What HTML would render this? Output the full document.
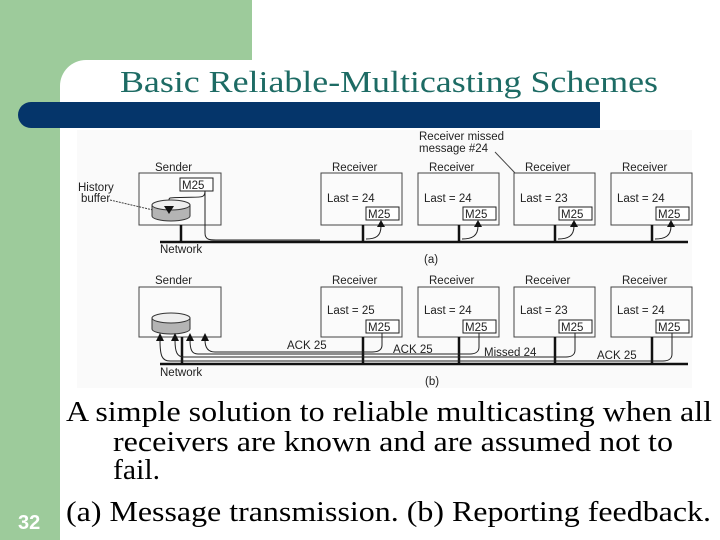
<!DOCTYPE html>
<html><head><meta charset="utf-8"><style>
html,body{margin:0;padding:0;width:720px;height:540px;overflow:hidden;background:#fff}
svg{display:block}
.d{font-family:"Liberation Sans",sans-serif;font-size:11.5px;fill:#222}
.s{font-family:"Liberation Serif",serif;fill:#000;font-size:28px}
</style></head><body>
<svg width="720" height="540" viewBox="0 0 720 540" xmlns="http://www.w3.org/2000/svg">
<rect x="0" y="0" width="720" height="540" fill="#fff"/>
<rect x="0" y="0" width="60" height="540" fill="#9dcb9b"/>
<rect x="0" y="0" width="252" height="60" fill="#9dcb9b"/>
<path d="M60 60 H86 A26 26 0 0 0 60 86 Z" fill="#9dcb9b"/>
<rect x="18" y="102" width="582" height="26" rx="13" fill="#05356a"/>
<rect x="300" y="102" width="300" height="26" fill="#05356a"/>
<text x="120" y="92" textLength="538" lengthAdjust="spacingAndGlyphs" font-family="Liberation Serif,serif" font-size="31" fill="#1d6b64">Basic Reliable-Multicasting Schemes</text>
<rect x="77" y="130" width="615" height="258" fill="#fafafa"/>
<g stroke="#444" fill="none" stroke-width="1">
<rect x="139" y="173" width="82" height="52" fill="#fbfbfb"/>
<rect x="180" y="178" width="33" height="13" fill="#fff" stroke="#222"/>
<line x1="110" y1="200" x2="153" y2="210" stroke-dasharray="2,1"/>
<path d="M205 191 C205 200 200 196 170 198 C168 199 169 203 169 206" stroke="#222"/>
<path d="M205 191 V233 C205 240 210 240 216 240 H320" stroke="#222"/>
<rect x="321" y="173" width="81" height="52" fill="#fbfbfb"/>
<rect x="418" y="173" width="81" height="52" fill="#fbfbfb"/>
<rect x="514" y="173" width="81" height="52" fill="#fbfbfb"/>
<rect x="611" y="173" width="81" height="52" fill="#fbfbfb"/>
<line x1="495" y1="152" x2="515" y2="173"/>
<rect x="139" y="287" width="82" height="50" fill="#fbfbfb"/>
<rect x="321" y="287" width="81" height="50" fill="#fbfbfb"/>
<rect x="418" y="287" width="81" height="50" fill="#fbfbfb"/>
<rect x="514" y="287" width="81" height="50" fill="#fbfbfb"/>
<rect x="611" y="287" width="81" height="50" fill="#fbfbfb"/>
</g>
<g stroke="#333" stroke-width="1">
<path d="M152 205 V216 A19 5 0 0 0 190 216 V205 Z" fill="#b4b4b4"/>
<ellipse cx="171" cy="205" rx="19" ry="5" fill="#eee"/>
<path d="M152 318 V329 A19 5 0 0 0 190 329 V318 Z" fill="#b4b4b4"/>
<ellipse cx="171" cy="318" rx="19" ry="5" fill="#eee"/>
</g>
<polygon points="164,206 174,206 169,214" fill="#111"/>
<g stroke="#111" stroke-width="2.5">
<line x1="160" y1="242" x2="688" y2="242"/>
<line x1="181" y1="225" x2="181" y2="242"/>
<line x1="363" y1="225" x2="363" y2="242"/>
<line x1="459" y1="225" x2="459" y2="242"/>
<line x1="555" y1="225" x2="555" y2="242"/>
<line x1="652" y1="225" x2="652" y2="242"/>
<line x1="160" y1="364" x2="688" y2="364"/>
<line x1="182" y1="337" x2="182" y2="364"/>
<line x1="363" y1="337" x2="363" y2="364"/>
<line x1="459" y1="337" x2="459" y2="364"/>
<line x1="555" y1="337" x2="555" y2="364"/>
<line x1="652" y1="337" x2="652" y2="364"/>
</g>
<g class="d">
<text x="155" y="171">Sender</text>
<text x="182" y="189">M25</text>
<text x="78" y="191">History</text>
<text x="81" y="202">buffer</text>
<text x="160" y="253">Network</text>
<text x="419" y="140">Receiver missed</text>
<text x="419" y="152">message #24</text>
<text x="424" y="263">(a)</text>
<text x="155" y="284">Sender</text>
<text x="160" y="376">Network</text>
<text x="425" y="385">(b)</text>
<text x="287" y="349">ACK 25</text>
<text x="393" y="353">ACK 25</text>
<text x="484" y="356">Missed 24</text>
<text x="597" y="359">ACK 25</text>
</g>
<g class="d">
<text x="332" y="171">Receiver</text><text x="429" y="171">Receiver</text><text x="525" y="171">Receiver</text><text x="622" y="171">Receiver</text>
<text x="327" y="202">Last = 24</text><text x="424" y="202">Last = 24</text><text x="520" y="202">Last = 23</text><text x="617" y="202">Last = 24</text>
<text x="332" y="284">Receiver</text><text x="429" y="284">Receiver</text><text x="525" y="284">Receiver</text><text x="622" y="284">Receiver</text>
<text x="327" y="314">Last = 25</text><text x="424" y="314">Last = 24</text><text x="520" y="314">Last = 23</text><text x="617" y="314">Last = 24</text>
</g>
<g stroke="#222" fill="#fff"><rect x="366" y="207" width="33" height="13"/><rect x="463" y="207" width="33" height="13"/><rect x="559" y="207" width="33" height="13"/><rect x="656" y="207" width="33" height="13"/>
<rect x="366" y="320" width="33" height="13"/><rect x="463" y="320" width="33" height="13"/><rect x="559" y="320" width="33" height="13"/><rect x="656" y="320" width="33" height="13"/></g>
<g class="d"><text x="368" y="218">M25</text><text x="465" y="218">M25</text><text x="561" y="218">M25</text><text x="658" y="218">M25</text>
<text x="368" y="331">M25</text><text x="465" y="331">M25</text><text x="561" y="331">M25</text><text x="658" y="331">M25</text></g>
<g stroke="#222" fill="none">
<path d="M366 239 C376 239 381 236 381 226"/><path d="M462 239 C472 239 478 236 478 226"/><path d="M558 239 C568 239 574 236 574 226"/><path d="M655 239 C665 239 671 236 671 226"/>
</g>
<g fill="#111"><polygon points="377,227 385,227 381,220"/><polygon points="474,227 482,227 478,220"/><polygon points="570,227 578,227 574,220"/><polygon points="667,227 675,227 671,220"/></g>
<g stroke="#222" fill="none">
<path d="M382 333 V345 C382 350 378 352 372 352 H215 C208 352 205 348 205 340"/>
<path d="M479 333 V347 C479 352 475 354 470 354 H198 C192 354 190 350 190 340"/>
<path d="M575 333 V350 C575 355 571 357 566 357 H184 C177 357 175 352 175 340"/>
<path d="M672 333 V354 C672 359 668 361 663 361 H170 C162 361 160 356 160 340"/>
</g>
<g fill="#111"><polygon points="201,341 209,341 205,333"/><polygon points="186,341 194,341 190,333"/><polygon points="171,341 179,341 175,333"/><polygon points="156,341 164,341 160,333"/></g>
<text class="s" x="66" y="421" textLength="646" lengthAdjust="spacingAndGlyphs">A simple solution to reliable multicasting when all</text>
<text class="s" x="113" y="451" textLength="560" lengthAdjust="spacingAndGlyphs">receivers are known and are assumed not to</text>
<text class="s" x="113" y="479" textLength="47" lengthAdjust="spacingAndGlyphs">fail.</text>
<text class="s" x="66" y="521" textLength="645" lengthAdjust="spacingAndGlyphs">(a) Message transmission. (b) Reporting feedback.</text>
<text x="18" y="529" font-family="Liberation Sans,sans-serif" font-weight="bold" font-size="20" fill="#fff">32</text>
</svg>
</body></html>
